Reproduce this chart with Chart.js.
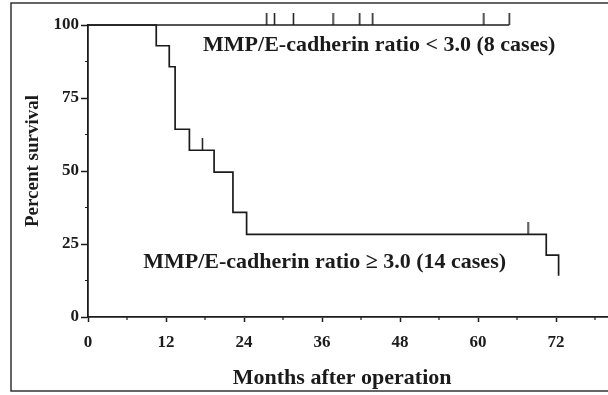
<!DOCTYPE html>
<html>
<head>
<meta charset="utf-8">
<script src="https://cdn.jsdelivr.net/npm/chart.js@4.4.1/dist/chart.umd.min.js"></script>
<style>
  html, body { margin: 0; padding: 0; background: #fff; }
  #wrap { position: relative; width: 608px; height: 395px; }
</style>
</head>
<body>
<div id="wrap"><canvas id="km" width="608" height="395"></canvas></div>
<script>
// Kaplan-Meier data (months, percent survival)
const lowTimes = [0, 10.5, 12.5, 13.4, 15.6, 19.4, 22.3, 24.4, 70.5, 72.4];
const lowSurv = [100, 92.9, 85.7, 64.3, 57.1, 49.6, 35.8, 28.3, 21.2, 14.1];
const lowCensorTimes = [17.6, 67.7];
const lowCensorSurv = [57.1, 28.3];

const highTimes = [0, 64.8];
const highSurv = [100, 100];
const highCensorTimes = [27.5, 28.7, 31.6, 37.7, 41.8, 43.8, 60.9, 64.8];
const highCensorSurv = [100, 100, 100, 100, 100, 100, 100, 100];

const xTicks = [0, 12, 24, 36, 48, 60, 72];
const xMinor = [6, 18, 30, 42, 54, 66, 78];
const yTicks = [0, 25, 50, 75, 100];
const yMinor = [12.5, 37.5, 62.5, 87.5];

const groupLabels = [
  "MMP/E-cadherin ratio < 3.0 (8 cases)",
  "MMP/E-cadherin ratio \u2265 3.0 (14 cases)"
];
const xTitle = "Months after operation";
const yTitle = "Percent survival";

const ink = "#1b1b1b";
const serif = "'Liberation Serif', 'Times New Roman', serif";

function toPoints(xs, ys) {
  return xs.map((x, i) => ({ x: x, y: ys[i] }));
}

// small upward tick used as censor mark
const censorMark = document.createElement("canvas");
censorMark.width = 3;
censorMark.height = 24;
(function () {
  const c = censorMark.getContext("2d");
  c.fillStyle = ink;
  c.fillRect(0.75, 0, 1.5, 12);
})();

const minorTicks = {
  id: "minorTicks",
  afterDraw(chart) {
    const ctx = chart.ctx;
    const xs = chart.scales.x;
    const ys = chart.scales.y;
    ctx.save();
    ctx.strokeStyle = ink;
    ctx.lineWidth = 1.2;
    ctx.beginPath();
    xMinor.forEach((v) => {
      const px = xs.getPixelForValue(v);
      ctx.moveTo(px, xs.top);
      ctx.lineTo(px, xs.top + 3);
    });
    yMinor.forEach((v) => {
      const py = ys.getPixelForValue(v);
      ctx.moveTo(ys.right, py);
      ctx.lineTo(ys.right - 3, py);
    });
    ctx.stroke();
    ctx.restore();
  }
};

// group labels and axis titles (the scanned figure sets them off-centre)
const texts = {
  id: "texts",
  afterDatasetsDraw(chart) {
    const ctx = chart.ctx;
    const xs = chart.scales.x;
    const ys = chart.scales.y;
    ctx.save();
    ctx.fillStyle = ink;
    ctx.font = "bold 22px " + serif;
    ctx.textAlign = "left";
    ctx.textBaseline = "middle";
    ctx.fillText(groupLabels[0], xs.getPixelForValue(17.7), ys.getPixelForValue(93.0));
    ctx.fillText(groupLabels[1], xs.getPixelForValue(8.5), ys.getPixelForValue(18.8));

    ctx.textAlign = "center";
    ctx.fillText(xTitle, xs.getPixelForValue(39.1), 378);

    ctx.font = "bold 19px " + serif;
    ctx.translate(33, ys.getPixelForValue(53.4));
    ctx.rotate(-Math.PI / 2);
    ctx.fillText(yTitle, 0, 0);
    ctx.restore();
  }
};

const frame = {
  id: "frame",
  afterDraw(chart) {
    const ctx = chart.ctx;
    ctx.save();
    ctx.strokeStyle = "#333";
    ctx.lineWidth = 1.5;
    ctx.strokeRect(11, 3, 640, 388);
    ctx.restore();
  }
};

const ctx = document.getElementById("km").getContext("2d");
new Chart(ctx, {
  type: "line",
  data: {
    datasets: [
      {
        data: toPoints(highTimes, highSurv),
        borderColor: ink,
        borderWidth: 1.7,
        stepped: true,
        pointRadius: 0,
        fill: false,
        clip: false
      },
      {
        data: toPoints(lowTimes, lowSurv),
        borderColor: ink,
        borderWidth: 1.7,
        stepped: true,
        pointRadius: 0,
        fill: false,
        clip: false
      },
      {
        data: toPoints(highCensorTimes, highCensorSurv),
        showLine: false,
        pointStyle: censorMark,
        pointRadius: 6,
        clip: false
      },
      {
        data: toPoints(lowCensorTimes, lowCensorSurv),
        showLine: false,
        pointStyle: censorMark,
        pointRadius: 6,
        clip: false
      }
    ]
  },
  options: {
    responsive: false,
    animation: false,
    layout: { autoPadding: false, padding: { left: 0, top: 25, right: 0, bottom: 0 } },
    plugins: {
      legend: { display: false },
      tooltip: { enabled: false }
    },
    scales: {
      x: {
        type: "linear",
        min: 0,
        max: 80,
        afterBuildTicks: (scale) => {
          scale.ticks = xTicks.map((v) => ({ value: v }));
        },
        afterFit: (scale) => {
          scale.height = 78;
          scale.paddingLeft = 0;
          scale.paddingRight = 0;
        },
        border: { color: ink, width: 1.8 },
        grid: { drawOnChartArea: false, tickLength: 5, tickColor: ink, tickWidth: 1.5 },
        ticks: {
          color: ink,
          padding: 10,
          maxRotation: 0,
          font: { family: serif, size: 17, weight: "bold" }
        }
      },
      y: {
        min: 0,
        max: 100,
        afterBuildTicks: (scale) => {
          scale.ticks = yTicks.map((v) => ({ value: v }));
        },
        afterFit: (scale) => {
          scale.width = 88;
          scale.paddingTop = 0;
          scale.paddingBottom = 0;
        },
        border: { color: ink, width: 1.8 },
        grid: { drawOnChartArea: false, tickLength: 7, tickColor: ink, tickWidth: 1.5 },
        ticks: {
          color: ink,
          padding: 2,
          font: { family: serif, size: 17, weight: "bold" }
        }
      }
    }
  },
  plugins: [minorTicks, texts, frame]
});
</script>
</body>
</html>
